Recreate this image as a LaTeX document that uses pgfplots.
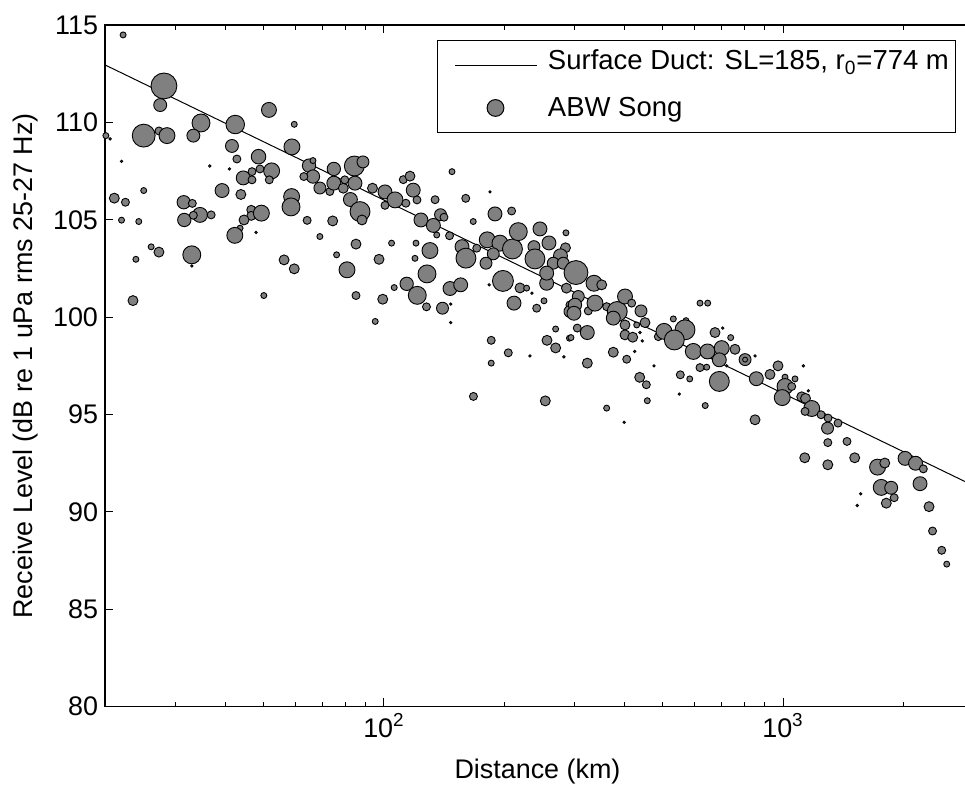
\documentclass[border=0pt]{standalone}
\usepackage{fontspec}
\setmainfont{Liberation Sans}
\usepackage{pgfplots}
\pgfplotsset{compat=1.18}
\usepackage{pgfplotstable}
\definecolor{mgray}{RGB}{128,128,128}

\pgfplotstableread{
x y r
22.2 114.49 3
28.1 111.87 13
27.5 110.89 6.5
51.5 110.64 7.5
25.0 109.32 11.5
27.3 109.56 4
28.6 109.32 8
20.1 109.32 3
20.6 109.15 1.2
34.8 109.97 9
33.3 109.32 6.5
42.4 109.89 9.3
59.6 109.90 3
41.6 108.79 6.5
42.8 108.12 4
58.8 108.74 8
22.0 108.00 1.2
36.6 107.76 1.2
41.0 107.61 1.2
48.5 108.24 7.3
52.3 107.51 8
46.7 107.47 4
48.9 107.61 4
44.4 107.15 7
64.9 107.78 6.7
66.4 108.04 3
74.9 107.61 6.7
66.4 107.22 6.7
63.0 107.22 4
39.3 106.50 7
21.1 106.11 5
22.5 105.90 4
25.0 106.50 3
31.5 105.90 6.7
33.1 105.84 4
31.6 104.99 6.7
34.6 105.25 7.5
33.3 105.23 4
36.9 105.25 4
22.0 104.98 3
24.3 104.91 3
43.8 106.30 5
46.7 107.05 4
51.6 107.05 4
46.5 105.51 4.5
46.5 105.20 4.5
44.6 104.99 5
49.3 105.34 8
43.6 104.57 3
47.8 104.35 1.2
42.3 104.20 8
58.7 106.19 8
58.5 105.66 9
64.2 104.97 4
74.4 104.94 5
69.1 104.14 3
26.1 103.61 3
27.3 103.34 5
23.9 102.97 3
33.0 103.20 9
33.0 102.63 1.2
56.2 102.94 5
59.6 102.48 5
23.5 100.85 5
50.0 101.11 3
76.1 103.20 3
69.1 106.63 6
73.2 106.45 4
74.9 106.88 7
79.1 106.62 5
79.8 107.05 4
84.3 107.76 10
88.6 107.97 6
84.6 106.88 7
82.4 106.04 7
87.1 105.42 10
88.1 104.99 5
93.6 106.62 5
100.6 106.43 7
106.6 106.02 8
100.6 105.74 4
111.8 107.06 4
116.2 107.24 5
118.4 106.52 7
121.0 106.02 4
113.5 105.85 4
134.3 106.03 4
148.1 107.47 3
160.3 106.10 4
167.4 104.91 3
123.8 104.99 7
133.0 104.71 7
138.6 105.26 6
141.4 105.13 4
135.6 104.22 3
146.0 104.18 4
156.9 103.62 7
160.5 103.03 10
170.8 103.54 4
120.3 103.80 3
119.6 103.02 3
130.4 103.42 8
128.2 102.22 9
104.5 103.80 3
97.2 102.97 5
85.1 103.75 5
80.8 102.43 8
85.1 101.11 4
99.3 100.92 5
106.1 101.52 3
114.0 101.71 6.7
121.2 101.12 9
127.8 100.53 4
140.2 100.46 6
146.4 101.47 7
155.7 101.66 7
147.0 99.72 1.2
147.0 100.67 1.2
95.1 99.78 3
167.6 95.93 4
184.4 106.43 1.2
189.8 105.30 7
208.9 105.45 4
181.5 103.97 8
195.3 103.80 8
187.9 103.25 6
180.2 102.77 6
209.9 103.50 10
217.1 104.39 9
246.0 104.53 7
259.1 103.81 7
285.8 104.33 3
285.0 103.56 5
276.9 103.15 7
237.6 103.62 6
239.0 102.99 10
265.6 102.77 6
281.4 102.77 6
183.6 101.66 1.2
198.7 101.86 10.5
219.2 101.50 5
227.8 101.49 3
211.8 100.72 7
234.9 101.23 1.2
255.7 101.74 7
255.7 102.26 7
251.8 100.84 3
241.4 100.46 4
286.6 101.49 5
292.5 100.63 4
292.5 100.29 6
269.3 99.39 3
256.2 98.81 5
269.3 98.42 5
282.5 97.96 1.2
291.6 98.92 3
185.7 98.81 4
204.9 98.17 4
232.2 98.01 1.2
185.7 97.64 3
253.7 95.70 5
302.8 102.29 12
336.0 101.74 8
351.3 101.66 5
306.9 101.06 6
301.1 100.63 6.7
299.3 100.20 7
325.1 100.32 4
337.9 100.72 8
361.5 100.54 4
384.3 100.29 10
375.6 99.95 7
401.8 101.06 7.5
417.6 100.72 4
440.7 100.32 6
450.9 99.72 5
429.9 99.60 3
401.8 99.60 5
401.8 99.09 5
420.1 98.97 5
438.1 99.21 1.2
444.0 98.78 1.2
305.1 99.44 4
323.3 99.21 7
294.2 98.95 3
375.6 98.20 5
487.0 99.00 4
503.3 99.27 8
531.0 99.91 3
571.4 99.82 3
568.1 99.35 10
534.1 98.83 10
596.0 98.24 8
619.4 100.72 3
647.6 100.72 3
675.5 99.21 5
706.2 99.44 1.2
739.4 98.95 3
646.8 98.24 7.5
702.1 98.41 7.5
758.1 98.35 5
323.3 97.64 5
405.8 97.84 4
424.9 98.24 1.2
475.0 97.50 1.2
437.4 96.91 5
454.4 96.53 4
457.0 95.71 3
361.5 95.33 3
400.0 94.60 1.2
552.9 97.04 4
583.8 96.83 3
549.7 96.05 1.2
638.3 95.46 3
692.5 96.70 10
643.8 97.43 3
850.9 94.73 5
857.4 96.84 7
803.4 97.82 6
803.4 97.82 2.5
850.9 98.01 1.2
927.7 97.06 5
971.6 97.50 5
1011.6 96.92 3
1071.7 96.83 3
1011.6 96.44 8
995.4 95.87 8
1114.0 95.91 5
1138.7 95.83 5
692.5 97.81 7
619.4 97.41 4
722.6 97.50 1.2
1124.3 97.50 1.2
1051.5 96.44 4
1157.3 96.22 1.2
1180.2 95.31 8
1135.5 95.16 4
1245.4 94.99 4
1296.8 94.82 4
1293.0 94.30 6
1373.4 94.56 4
1295.0 93.56 4
1446.6 93.62 4
1133.6 92.78 5
1295.0 92.42 5
1512.4 92.78 5
1725.4 92.30 8
1798.8 92.51 5
2022.3 92.75 7
2148.4 92.50 7
2247.0 92.21 4
2204.8 91.45 7
1762.5 91.26 8
1866.8 91.24 6.5
1899.3 90.73 4
1814.8 90.45 5
1565.6 90.93 1.2
1535.3 90.33 1.2
2322.2 90.27 5
2369.7 89.02 4
2498.6 88.03 4
2572.0 87.32 3
}\abwdata

\pgfplotsset{
  ductlegend/.style={legend image code/.code={\path[draw=none, fill=none] (0bp,0bp) -- (46.5bp,0bp); \draw[black, line width=0.5pt] (5.5bp,-1.5bp) -- (46.5bp,-1.5bp);}},
  abwlegend/.style={legend image code/.code={\path[draw=none, fill=none] (0bp,0bp) -- (46.5bp,0bp); \draw[black, fill=mgray, line width=0.5pt] (25.5bp,1bp) circle (4.2bp);}},
}

\begin{document}
\begin{tikzpicture}
\begin{axis}[
  at={(0,0)}, anchor=south west,
  scale only axis, width=434.2bp, height=340.85bp,
  xmode=log, xmin=20, xmax=3000, ymin=80, ymax=115,
  xtick={100,1000},
  xticklabels={10\textsuperscript{2},10\textsuperscript{3}},
  minor xtick={30,40,50,60,70,80,90,200,300,400,500,600,700,800,900,2000},
  ytick={80,85,90,95,100,105,110,115},
  tick align=inside,
  major tick length=4.25bp, minor tick length=2.5bp,
  every tick/.style={black, line width=0.5pt},
  axis line style={black, line width=0.6pt},
  font=\fontsize{13.5}{16}\selectfont,
  tick label style={font=\fontsize{13.5}{16}\selectfont},
  /pgf/number format/assume math mode=true,
  xlabel={Distance (km)},
  ylabel={Receive Level (dB re 1 uPa rms 25-27 Hz)},
  every axis x label/.style={at={(axis description cs:0.498,-0.0953)}, anchor=center},
  every axis y label/.style={at={(axis description cs:-0.0910,0.5)}, rotate=90, anchor=center},
  legend cell align=left,
  legend style={
    at={(axis description cs:0.3823,0.978)}, anchor=north west,
    draw=black, line width=0.5pt,
    inner xsep=3.5bp, inner ysep=5.25bp,
    row sep=11.5bp, column sep=5bp,
    nodes={inner sep=0pt, text height=9.5bp, text depth=2.5bp, anchor=west},
    font=\fontsize{13.8}{16}\selectfont,
  },
]
\addplot[black, line width=0.5pt, ductlegend]
  coordinates {(20,112.95) (3000,91.35)};
\addlegendentry{Surface Duct: SL=185, r\textsubscript{0}=774 m}
\addlegendimage{abwlegend}
\addlegendentry{ABW Song}
\addplot[scatter, only marks, mark=*, forget plot,
  scatter/use mapped color={draw=black, fill=mgray},
  mark options={line width=0.45pt},
  visualization depends on={\thisrow{r}/2 \as \msize},
  scatter/@pre marker code/.append style={/tikz/mark size=\msize}]
  table[x=x, y=y] {\abwdata};
\end{axis}
\pgfresetboundingbox
\useasboundingbox (-52.5bp,-39.15bp) rectangle (430bp,353.35bp);
\end{tikzpicture}
\end{document}
